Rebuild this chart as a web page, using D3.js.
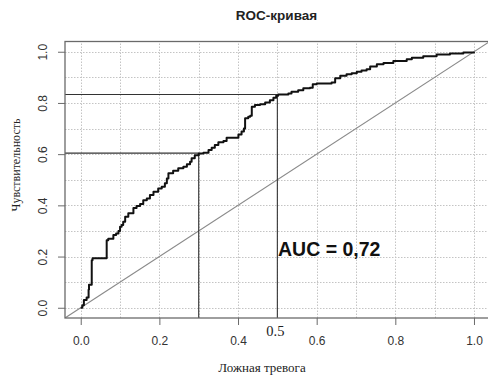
<!DOCTYPE html>
<html>
<head>
<meta charset="utf-8">
<script src="https://cdn.jsdelivr.net/npm/d3@7"></script>
<style>
  html, body { margin: 0; padding: 0; background: #fff; }
  svg { display: block; }
</style>
</head>
<body>
<svg id="chart" width="488" height="376"></svg>
<script>
// ---- data ----
const chartTitle = "ROC-кривая";
const xTitle = "Ложная тревога";
const yTitle = "Чувствительность";
const aucLabel = "AUC = 0,72";
const tickValues = [0, 0.2, 0.4, 0.6, 0.8, 1.0];
const gridValues = [0, 0.1, 0.2, 0.3, 0.4, 0.5, 0.6, 0.7, 0.8, 0.9, 1.0];
// ROC curve: false positive rate and sensitivity
const fpr = [0, 0.004, 0.008, 0.015, 0.02, 0.021, 0.028, 0.030, 0.066, 0.066, 0.07, 0.083, 0.09, 0.096, 0.10, 0.104,
  0.108, 0.113, 0.121, 0.134, 0.142, 0.151, 0.159, 0.168, 0.176, 0.185, 0.197, 0.206, 0.214, 0.219, 0.223,
  0.235, 0.248, 0.261, 0.27, 0.278, 0.282, 0.29, 0.30, 0.312, 0.325, 0.333, 0.341, 0.35, 0.363, 0.371, 0.388,
  0.401, 0.409, 0.415, 0.418, 0.426, 0.431, 0.435, 0.443, 0.456, 0.469, 0.481, 0.49, 0.497, 0.502, 0.528,
  0.536, 0.553, 0.566, 0.583, 0.59, 0.60, 0.638, 0.647, 0.66, 0.676, 0.689, 0.702, 0.714, 0.727, 0.736,
  0.753, 0.77, 0.795, 0.829, 0.842, 0.871, 0.905, 0.939, 0.973, 1.0];
const tpr = [0, 0.01, 0.03, 0.04, 0.07, 0.09, 0.186, 0.193, 0.193, 0.264, 0.27, 0.284, 0.29, 0.30, 0.316, 0.323,
  0.336, 0.355, 0.369, 0.39, 0.397, 0.405, 0.42, 0.427, 0.44, 0.453, 0.466, 0.473, 0.486, 0.505, 0.525,
  0.535, 0.545, 0.551, 0.561, 0.57, 0.584, 0.596, 0.603, 0.605, 0.616, 0.625, 0.636, 0.646, 0.651, 0.664, 0.664,
  0.677, 0.688, 0.70, 0.74, 0.746, 0.75, 0.785, 0.792, 0.795, 0.802, 0.811, 0.82, 0.828, 0.833, 0.837,
  0.844, 0.85, 0.857, 0.859, 0.873, 0.876, 0.88, 0.896, 0.906, 0.912, 0.916, 0.922, 0.927, 0.932, 0.942,
  0.951, 0.956, 0.964, 0.971, 0.977, 0.982, 0.989, 0.993, 0.997, 1.0];
// cut-off reference points
const cutFpr = [0.3, 0.5];
const cutTpr = [0.604, 0.833];
const markLabel = "0.5";

// ---- layout ----
const svg = d3.select("#chart");
const domain = [-0.04, 1.04];
const x = d3.scaleLinear().domain(domain).range([65, 489.7]);
const y = d3.scaleLinear().domain(domain).range([318, 41.5]);

// clip for plot area
svg.append("defs").append("clipPath").attr("id", "plotclip")
  .append("rect").attr("x", x(domain[0])).attr("y", y(domain[1]))
  .attr("width", x(domain[1]) - x(domain[0])).attr("height", y(domain[0]) - y(domain[1]));

const plot = svg.append("g").attr("clip-path", "url(#plotclip)");

// grid
plot.selectAll("line.vg").data(gridValues).join("line")
  .attr("x1", d => Math.round(x(d)) + 0.5).attr("x2", d => Math.round(x(d)) + 0.5)
  .attr("y1", y(domain[0])).attr("y2", y(domain[1]))
  .attr("stroke", "#c4c4c4").attr("stroke-width", 1).attr("stroke-dasharray", "1.5,1.5");
plot.selectAll("line.hg").data(gridValues).join("line")
  .attr("y1", d => Math.round(y(d)) + 0.5).attr("y2", d => Math.round(y(d)) + 0.5)
  .attr("x1", x(domain[0])).attr("x2", x(domain[1]))
  .attr("stroke", "#c4c4c4").attr("stroke-width", 1).attr("stroke-dasharray", "1.5,1.5");

// diagonal
plot.append("line")
  .attr("x1", x(domain[0])).attr("y1", y(domain[0]))
  .attr("x2", x(domain[1])).attr("y2", y(domain[1]))
  .attr("stroke", "#8a8a8a").attr("stroke-width", 1.1);

// cut-off lines
cutFpr.forEach((cx, i) => {
  const cy = cutTpr[i];
  plot.append("line")
    .attr("x1", x(domain[0])).attr("x2", x(cx))
    .attr("y1", y(cy)).attr("y2", y(cy))
    .attr("stroke", "#333").attr("stroke-width", 1.1);
  plot.append("line")
    .attr("x1", x(cx)).attr("x2", x(cx))
    .attr("y1", y(domain[0])).attr("y2", y(cy))
    .attr("stroke", "#333").attr("stroke-width", 1.1);
});

// ROC curve
const pts = fpr.map((f, i) => [f, tpr[i]]);
plot.append("path")
  .datum(pts)
  .attr("fill", "none").attr("stroke", "#111").attr("stroke-width", 2)
  .attr("stroke-linejoin", "round")
  .attr("d", d3.line().x(d => x(d[0])).y(d => y(d[1])).curve(d3.curveStepAfter));

// box
svg.append("rect")
  .attr("x", x(domain[0])).attr("y", y(domain[1]))
  .attr("width", x(domain[1]) - x(domain[0])).attr("height", y(domain[0]) - y(domain[1]))
  .attr("fill", "none").attr("stroke", "#6a6a6a").attr("stroke-width", 1.3);

// x axis
const xAxis = svg.append("g").attr("transform", `translate(0,${y(domain[0])})`)
  .call(d3.axisBottom(x).tickValues(tickValues).tickSize(7).tickFormat(d3.format(".1f")));
xAxis.select(".domain").remove();
xAxis.selectAll(".tick line").attr("stroke", "#6a6a6a");
xAxis.selectAll(".tick text")
  .attr("y", 27).attr("dy", 0)
  .attr("fill", "#333").style("font-family", "Liberation Sans, Arial, sans-serif").style("font-size", "12px");

// y axis
const yAxis = svg.append("g").attr("transform", `translate(${x(domain[0])},0)`)
  .call(d3.axisLeft(y).tickValues(tickValues).tickSize(7).tickFormat(d3.format(".1f")));
yAxis.select(".domain").remove();
yAxis.selectAll(".tick line").attr("stroke", "#6a6a6a");
yAxis.selectAll(".tick text")
  .attr("x", 0).attr("dy", 0).attr("text-anchor", "middle")
  .attr("transform", "translate(-18.5,0) rotate(-90)")
  .attr("fill", "#333").style("font-family", "Liberation Sans, Arial, sans-serif").style("font-size", "12px");

// title
svg.append("text").text(chartTitle)
  .attr("x", 276.5).attr("y", 20).attr("text-anchor", "middle")
  .style("font-family", "Liberation Sans, Arial, sans-serif").style("font-weight", "bold").style("font-size", "13.5px")
  .attr("fill", "#222");

// axis titles
svg.append("text").text(xTitle)
  .attr("x", 262).attr("y", 372).attr("text-anchor", "middle")
  .style("font-family", "Liberation Serif, Times New Roman, serif").style("font-size", "13px")
  .attr("fill", "#222");
svg.append("text").text(yTitle)
  .attr("transform", "translate(20,165) rotate(-90)").attr("text-anchor", "middle")
  .style("font-family", "Liberation Serif, Times New Roman, serif").style("font-size", "12px")
  .attr("fill", "#222");

// 0.5 mark label
svg.append("text").text(markLabel)
  .attr("x", x(cutFpr[1]) - 2).attr("y", 336).attr("text-anchor", "middle")
  .style("font-family", "Liberation Serif, Times New Roman, serif").style("font-size", "14.5px")
  .attr("fill", "#222");

// AUC label
svg.append("text").text(aucLabel)
  .attr("x", 278).attr("y", 256)
  .style("font-family", "Liberation Sans, Arial, sans-serif").style("font-weight", "bold").style("font-size", "19.5px")
  .attr("fill", "#111");
</script>
</body>
</html>
